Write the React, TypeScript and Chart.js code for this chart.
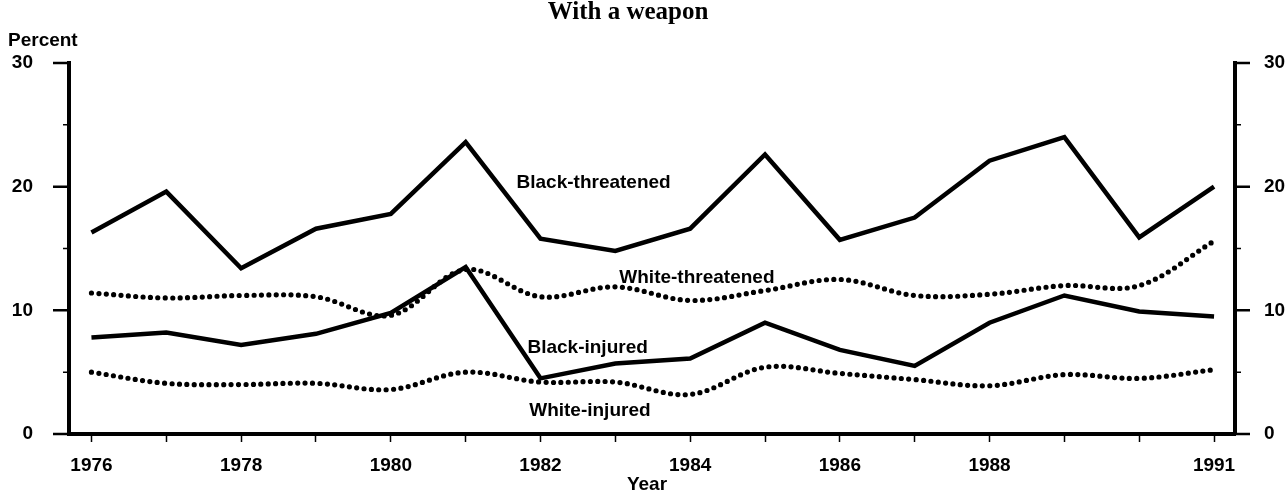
import React, { useEffect, useRef } from 'react';
import { Chart, registerables } from 'chart.js';

Chart.register(...registerables);

const years = [1976, 1977, 1978, 1979, 1980, 1981, 1982, 1983, 1984, 1985, 1986, 1987, 1988, 1989, 1990, 1991];
const xTickLabels = ['1976', '1978', '1980', '1982', '1984', '1986', '1988', '1991'];
const yMajorTicks = [0, 10, 20, 30];
const yMinorTicks = [5, 15, 25];

const blackThreatened = [16.3, 19.6, 13.4, 16.6, 17.8, 23.6, 15.8, 14.8, 16.6, 22.6, 15.7, 17.5, 22.1, 24.0, 15.9, 20.0];
const blackInjured = [7.8, 8.2, 7.2, 8.1, 9.8, 13.5, 4.5, 5.7, 6.1, 9.0, 6.8, 5.5, 9.0, 11.2, 9.9, 9.5];
const whiteThreatened = [11.4, 11.0, 11.2, 11.1, 9.6, 13.3, 11.1, 11.9, 10.8, 11.6, 12.5, 11.2, 11.3, 12.0, 12.0, 15.6];
const whiteInjured = [5.0, 4.1, 4.0, 4.1, 3.6, 5.0, 4.2, 4.2, 3.2, 5.4, 4.9, 4.4, 3.9, 4.8, 4.5, 5.2];

const seriesNames = ['Black-threatened', 'Black-injured', 'White-threatened', 'White-injured'];
// label anchors in data units (year, percent)
const labelYears = [1982.71, 1982.63, 1984.09, 1982.66];
const labelValues = [20.3, 7.0, 12.6, 1.9];

const titleText = 'With a weapon';
const yAxisText = 'Percent';
const xAxisText = 'Year';

const SANS = '"Liberation Sans", Arial, Helvetica, sans-serif';
const SERIF = '"Liberation Serif", "Times New Roman", serif';

const pts = (vals: number[]) => vals.map((v, i) => ({ x: years[i], y: v }));

const decorPlugin = {
  id: 'decor',
  afterDraw(chart: any) {
    const { ctx, chartArea, scales } = chart;
    const y = scales.y;
    const x = scales.x;
    ctx.save();
    ctx.strokeStyle = '#000';
    ctx.fillStyle = '#000';
    ctx.lineCap = 'butt';
    yMajorTicks.forEach((v) => {
      const py = y.getPixelForValue(v);
      ctx.lineWidth = 2.5;
      ctx.beginPath();
      ctx.moveTo(chartArea.left - 16, py);
      ctx.lineTo(chartArea.left, py);
      ctx.moveTo(chartArea.right, py);
      ctx.lineTo(chartArea.right + 15, py);
      ctx.stroke();
    });
    yMinorTicks.forEach((v) => {
      const py = y.getPixelForValue(v);
      ctx.lineWidth = 1.5;
      ctx.beginPath();
      ctx.moveTo(chartArea.left - 6, py);
      ctx.lineTo(chartArea.left, py);
      ctx.moveTo(chartArea.right, py);
      ctx.lineTo(chartArea.right + 6, py);
      ctx.stroke();
    });
    ctx.textBaseline = 'middle';
    ctx.textAlign = 'center';
    ctx.font = `bold 25px ${SERIF}`;
    ctx.fillText(titleText, 628, 13);
    ctx.textAlign = 'left';
    ctx.font = `bold 19px ${SANS}`;
    ctx.fillText(yAxisText, 8, 41);
    ctx.textAlign = 'center';
    ctx.fillText(xAxisText, 647, 485);
    seriesNames.forEach((name, i) => {
      ctx.fillText(name, x.getPixelForValue(labelYears[i]), y.getPixelForValue(labelValues[i]));
    });
    ctx.restore();
  },
};

export default function App() {
  const ref = useRef<HTMLCanvasElement | null>(null);
  useEffect(() => {
    if (!ref.current) return;
    const solid = {
      borderColor: '#000',
      borderWidth: 4.5,
      pointRadius: 0,
      tension: 0,
      borderJoinStyle: 'miter' as const,
      fill: false,
    };
    const dotted = {
      borderColor: '#000',
      borderWidth: 5.2,
      pointRadius: 0,
      tension: 0.35,
      borderDash: [0, 7.4],
      borderCapStyle: 'round' as const,
      fill: false,
    };
    const chart = new Chart(ref.current, {
      type: 'line',
      data: {
        datasets: [
          { label: seriesNames[2], data: pts(whiteThreatened), ...dotted },
          { label: seriesNames[3], data: pts(whiteInjured), ...dotted },
          { label: seriesNames[0], data: pts(blackThreatened), ...solid },
          { label: seriesNames[1], data: pts(blackInjured), ...solid },
        ],
      },
      options: {
        animation: false,
        responsive: false,
        devicePixelRatio: 1,
        layout: { padding: { top: 63, left: 0, right: 0, bottom: 0 } },
        plugins: { legend: { display: false }, title: { display: false }, tooltip: { enabled: false } },
        scales: {
          x: {
            type: 'linear',
            min: 1975.7,
            max: 1991.28,
            afterBuildTicks: (s: any) => {
              s.ticks = years.map((v) => ({ value: v }));
            },
            afterFit: (s: any) => {
              s.height = 62;
            },
            grid: {
              display: true,
              drawOnChartArea: false,
              drawTicks: true,
              tickLength: 8,
              tickWidth: 1.5,
              tickColor: '#000',
            },
            border: { display: true, width: 4, color: '#000' },
            ticks: {
              autoSkip: false,
              maxRotation: 0,
              padding: 12,
              color: '#000',
              font: { family: SANS, size: 19, weight: 'bold' },
              callback: (v: any) => (xTickLabels.includes(String(v)) ? String(v) : ''),
            },
          },
          y: {
            position: 'left',
            min: 0,
            max: 30,
            afterFit: (s: any) => {
              s.width = 69;
            },
            grid: { display: false },
            border: { display: true, width: 4, color: '#000' },
            ticks: {
              stepSize: 10,
              padding: 28,
              color: '#000',
              font: { family: SANS, size: 19, weight: 'bold' },
            },
          },
          y2: {
            position: 'right',
            min: 0,
            max: 30,
            afterFit: (s: any) => {
              s.width = 53;
            },
            grid: { display: false },
            border: { display: true, width: 4, color: '#000' },
            ticks: {
              stepSize: 10,
              padding: 21,
              color: '#000',
              font: { family: SANS, size: 19, weight: 'bold' },
            },
          },
        },
      },
      plugins: [decorPlugin],
    } as any);
    return () => chart.destroy();
  }, []);
  return (
    <div style={{ position: 'absolute', left: 0, top: 0, width: 1288, height: 496, background: '#fff' }}>
      <canvas ref={ref} width={1288} height={496} style={{ display: 'block', width: 1288, height: 496 }} />
    </div>
  );
}
